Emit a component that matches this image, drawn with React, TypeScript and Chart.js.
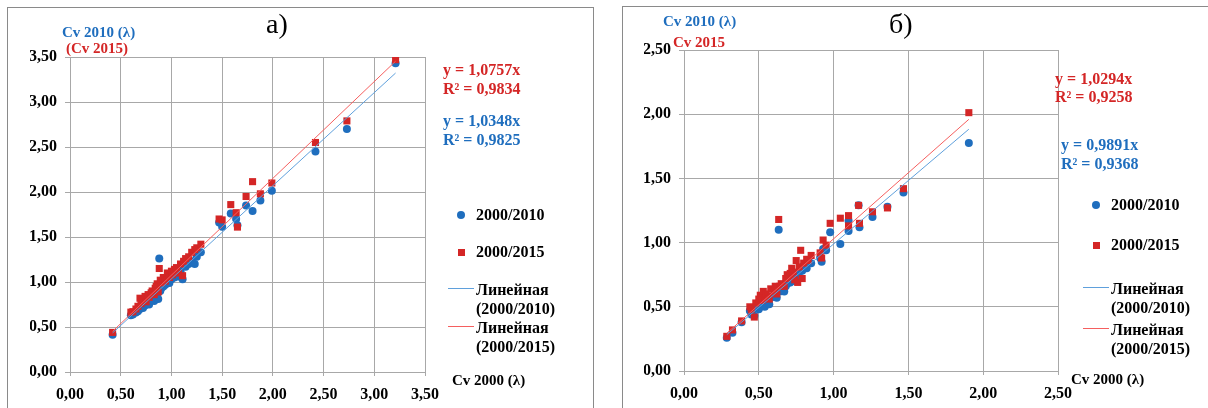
import React, { useEffect, useRef } from "react";
import { Chart, registerables } from "chart.js";
Chart.register(...registerables);

// ---------- Panel а) ----------
const leftCv2000 = [
  0.42, 0.6, 0.62, 0.65, 0.67, 0.69, 0.7, 0.72, 0.74, 0.75, 0.77, 0.78, 0.8, 0.81, 0.83, 0.84, 0.85, 0.86,
  0.87, 0.88, 0.89, 0.9, 0.92, 0.94, 0.96, 0.98, 1.0, 1.01, 1.03, 1.05, 1.07, 1.09, 1.11, 1.12, 1.14, 1.17,
  1.2, 1.23, 1.25, 1.29, 1.47, 1.5, 1.585, 1.638, 1.651, 1.736, 1.8, 1.877, 1.99, 2.42, 2.73, 3.21,
];
const leftCv2010 = [
  0.415, 0.63, 0.64, 0.66, 0.675, 0.7, 0.72, 0.71, 0.74, 0.76, 0.78, 0.75, 0.8, 0.82, 0.79, 0.85, 0.83, 0.87,
  0.81, 1.26, 0.9, 0.93, 0.95, 0.97, 1.0, 0.99, 1.03, 1.06, 1.05, 1.09, 1.06, 1.12, 1.03, 1.18, 1.17, 1.2,
  1.23, 1.2, 1.28, 1.33, 1.66, 1.615, 1.76, 1.7, 1.63, 1.85, 1.79, 1.905, 2.015, 2.45, 2.7, 3.43,
];
const leftCv2015 = [
  0.44, 0.665, 0.67, 0.7, 0.73, 0.82, 0.76, 0.8, 0.84, 0.78, 0.86, 0.83, 0.88, 0.9, 0.86, 0.93, 0.95, 0.98,
  0.89, 1.15, 1.02, 0.99, 1.05, 1.01, 1.1, 1.05, 1.12, 1.08, 1.14, 1.16, 1.1, 1.2, 1.07, 1.23, 1.26, 1.28,
  1.33, 1.36, 1.38, 1.42, 1.7, 1.69, 1.86, 1.77, 1.61, 1.95, 2.115, 1.98, 2.1, 2.55, 2.79, 3.47,
];
const leftSlope2010 = 1.0348;
const leftSlope2015 = 1.0757;
const leftR2010 = "0,9825";
const leftR2015 = "0,9834";

// ---------- Panel б) ----------
const rightCv2000 = [
  0.286, 0.324, 0.385, 0.44, 0.45, 0.47, 0.48, 0.5, 0.51, 0.52, 0.53, 0.54, 0.55, 0.56, 0.57, 0.58, 0.6, 0.61,
  0.62, 0.633, 0.64, 0.65, 0.67, 0.68, 0.69, 0.7, 0.71, 0.72, 0.73, 0.74, 0.75, 0.76, 0.77, 0.78, 0.79, 0.8,
  0.82, 0.83, 0.85, 0.91, 0.92, 0.93, 0.95, 0.977, 1.045, 1.1, 1.1, 1.167, 1.173, 1.26, 1.36, 1.467, 1.904,
];
const rightCv2010 = [
  0.258, 0.297, 0.38, 0.47, 0.44, 0.43, 0.49, 0.48, 0.5, 0.53, 0.52, 0.5, 0.55, 0.58, 0.52, 0.57, 0.58, 0.6,
  0.57, 1.1, 0.62, 0.63, 0.62, 0.66, 0.68, 0.7, 0.69, 0.72, 0.73, 0.7, 0.76, 0.74, 0.77, 0.8, 0.78, 0.82,
  0.8, 0.85, 0.84, 0.88, 0.85, 0.95, 0.94, 1.08, 0.99, 1.09, 1.17, 1.29, 1.12, 1.2, 1.28, 1.39, 1.776,
];
const rightCv2015 = [
  0.27, 0.32, 0.39, 0.5, 0.48, 0.42, 0.53, 0.56, 0.59, 0.55, 0.62, 0.57, 0.6, 0.58, 0.56, 0.64, 0.62, 0.66,
  0.6, 1.18, 0.66, 0.68, 0.66, 0.72, 0.75, 0.73, 0.76, 0.8, 0.77, 0.71, 0.86, 0.69, 0.81, 0.94, 0.72, 0.84,
  0.87, 0.86, 0.9, 0.92, 0.88, 1.02, 0.98, 1.15, 1.19, 1.13, 1.21, 1.29, 1.15, 1.24, 1.27, 1.42, 2.012,
];
const rightSlope2010 = 0.9891;
const rightSlope2015 = 1.0294;
const rightR2010 = "0,9368";
const rightR2015 = "0,9258";

const BLUE = "rgb(31,110,190)";
const RED = "rgb(212,38,38)";
const BLUE_LINE = "rgb(95,160,220)";
const RED_LINE = "rgb(245,95,95)";
const GRID = "#a8a8a8";
const FONT = "'Liberation Serif', 'Times New Roman', serif";

const W = 1208;
const H = 408;

const fmt = (v: number) => Number(v).toFixed(2).replace(".", ",");

type Area = { left: number; right: number; top: number; bottom: number };

function ScatterPanel(props: {
  xs: number[];
  y10: number[];
  y15: number[];
  s10: number;
  s15: number;
  xMax: number;
  yMax: number;
  area: Area;
}) {
  const ref = useRef<HTMLCanvasElement>(null);
  useEffect(() => {
    const { xs, y10, y15, s10, s15, xMax, yMax, area } = props;
    const p10 = xs.map((x, i) => ({ x, y: y10[i] }));
    const p15 = xs.map((x, i) => ({ x, y: y15[i] }));
    const xmin = Math.min(...xs);
    const xmax = Math.max(...xs);
    const yAxisW = 40;
    const xAxisH = 34;
    const tickFont = { family: FONT, size: 16, weight: "bold" as const };
    const chart = new Chart(ref.current!, {
      type: "scatter",
      data: {
        datasets: [
          {
            type: "line",
            label: "Линейная (2000/2015)",
            data: [
              { x: xmin, y: s15 * xmin },
              { x: xmax, y: s15 * xmax },
            ],
            borderColor: RED_LINE,
            borderWidth: 1,
            pointRadius: 0,
            fill: false,
            order: 0,
          } as any,
          {
            type: "line",
            label: "Линейная (2000/2010)",
            data: [
              { x: xmin, y: s10 * xmin },
              { x: xmax, y: s10 * xmax },
            ],
            borderColor: BLUE_LINE,
            borderWidth: 1,
            pointRadius: 0,
            fill: false,
            order: 1,
          } as any,
          {
            label: "2000/2015",
            data: p15,
            pointStyle: "rect",
            pointRadius: 5,
            backgroundColor: RED,
            borderColor: RED,
            borderWidth: 0,
            order: 2,
          },
          {
            label: "2000/2010",
            data: p10,
            pointStyle: "circle",
            pointRadius: 4,
            backgroundColor: BLUE,
            borderColor: BLUE,
            borderWidth: 0,
            order: 3,
          },
        ],
      },
      options: {
        animation: false,
        responsive: false,
        maintainAspectRatio: false,
        devicePixelRatio: 1,
        layout: {
          padding: {
            left: area.left - yAxisW,
            right: W - area.right,
            top: area.top,
            bottom: H - area.bottom - xAxisH,
          },
        },
        plugins: { legend: { display: false }, tooltip: { enabled: false } },
        scales: {
          x: {
            type: "linear",
            min: 0,
            max: xMax,
            ticks: {
              stepSize: 0.5,
              callback: (v: any) => fmt(v),
              font: tickFont,
              color: "#000",
              padding: 9,
              maxRotation: 0,
              autoSkip: false,
            },
            grid: { color: GRID, tickLength: 4, tickColor: GRID },
            border: { color: GRID },
            afterFit: (s: any) => {
              s.height = xAxisH;
            },
          },
          y: {
            type: "linear",
            min: 0,
            max: yMax,
            ticks: {
              stepSize: 0.5,
              callback: (v: any) => fmt(v),
              font: tickFont,
              color: "#000",
              padding: 8,
              autoSkip: false,
            },
            grid: { color: GRID, tickLength: 5, tickColor: GRID },
            border: { color: GRID },
            afterFit: (s: any) => {
              s.width = yAxisW;
            },
          },
        },
      },
    });
    return () => chart.destroy();
  }, []);
  return (
    <canvas
      ref={ref}
      width={W}
      height={H}
      style={{ position: "absolute", left: 0, top: 0, width: W, height: H }}
    />
  );
}

function T(props: { x: number; y: number; color?: string; size?: number; bold?: boolean; children: any }) {
  const size = props.size ?? 16;
  return (
    <div
      style={{
        position: "absolute",
        left: props.x,
        top: props.y - size / 2,
        height: size,
        lineHeight: size + "px",
        fontFamily: FONT,
        fontSize: size,
        fontWeight: props.bold === false ? "normal" : "bold",
        color: props.color ?? "#000",
        whiteSpace: "nowrap",
      }}
    >
      {props.children}
    </div>
  );
}

function Legend(props: { x: number; textX: number; yDot: number; ySq: number; yL1: number; yL2: number; lineX1: number; lineX2: number }) {
  const { x, textX, yDot, ySq, yL1, yL2, lineX1, lineX2 } = props;
  return (
    <>
      <div style={{ position: "absolute", left: x - 4, top: yDot - 4, width: 8, height: 8, borderRadius: 4, background: BLUE }} />
      <T x={textX} y={yDot}>2000/2010</T>
      <div style={{ position: "absolute", left: x - 3.5, top: ySq - 3.5, width: 7, height: 7, background: RED }} />
      <T x={textX} y={ySq}>2000/2015</T>
      <div style={{ position: "absolute", left: lineX1, top: yL1, width: lineX2 - lineX1, height: 1, background: BLUE_LINE }} />
      <T x={textX} y={yL1 + 2}>Линейная</T>
      <T x={textX} y={yL1 + 21}>(2000/2010)</T>
      <div style={{ position: "absolute", left: lineX1, top: yL2, width: lineX2 - lineX1, height: 1, background: RED_LINE }} />
      <T x={textX} y={yL2 + 2}>Линейная</T>
      <T x={textX} y={yL2 + 21}>(2000/2015)</T>
    </>
  );
}

export default function App() {
  const leftArea = { left: 70, right: 425, top: 57, bottom: 372 };
  const rightArea = { left: 684, right: 1058, top: 50, bottom: 371 };
  return (
    <div
      style={{
        position: "fixed",
        left: 0,
        top: 0,
        width: W,
        height: H,
        background: "#fff",
        overflow: "hidden",
      }}
    >
      {/* panel frames */}
      <div style={{ position: "absolute", left: 7, top: 7, width: 585, height: 420, border: "1px solid #8a8a8a" }} />
      <div style={{ position: "absolute", left: 622, top: 6, width: 600, height: 420, border: "1px solid #8a8a8a" }} />

      <ScatterPanel
        xs={leftCv2000}
        y10={leftCv2010}
        y15={leftCv2015}
        s10={leftSlope2010}
        s15={leftSlope2015}
        xMax={3.5}
        yMax={3.5}
        area={leftArea}
      />
      <ScatterPanel
        xs={rightCv2000}
        y10={rightCv2010}
        y15={rightCv2015}
        s10={rightSlope2010}
        s15={rightSlope2015}
        xMax={2.5}
        yMax={2.5}
        area={rightArea}
      />

      {/* panel а) texts */}
      <T x={266} y={24} size={28} bold={false}>а)</T>
      <T x={62} y={32} color={BLUE} size={15}>Cv 2010 (λ)</T>
      <T x={66} y={48} color={RED} size={15}>(Cv 2015)</T>
      <T x={443} y={70} color={RED}>y = {leftSlope2015.toFixed(4).replace(".", ",")}x</T>
      <T x={443} y={89} color={RED}>R² = {leftR2015}</T>
      <T x={443} y={121} color={BLUE}>y = {leftSlope2010.toFixed(4).replace(".", ",")}x</T>
      <T x={443} y={140} color={BLUE}>R² = {leftR2010}</T>
      <Legend x={461} textX={476} yDot={215} ySq={252} yL1={288} yL2={326} lineX1={448} lineX2={474} />
      <T x={452} y={380} size={15}>Cv 2000 (λ)</T>

      {/* panel б) texts */}
      <T x={889} y={24} size={28} bold={false}>б)</T>
      <T x={663} y={21} color={BLUE} size={15}>Cv 2010 (λ)</T>
      <T x={673} y={42} color={RED} size={15}>Cv 2015</T>
      <T x={1055} y={79} color={RED}>y = {rightSlope2015.toFixed(4).replace(".", ",")}x</T>
      <T x={1055} y={97} color={RED}>R² = {rightR2015}</T>
      <T x={1061} y={145} color={BLUE}>y = {rightSlope2010.toFixed(4).replace(".", ",")}x</T>
      <T x={1061} y={164} color={BLUE}>R² = {rightR2010}</T>
      <Legend x={1096} textX={1111} yDot={205} ySq={245} yL1={287} yL2={328} lineX1={1083} lineX2={1109} />
      <T x={1071} y={379} size={15}>Cv 2000 (λ)</T>
    </div>
  );
}
